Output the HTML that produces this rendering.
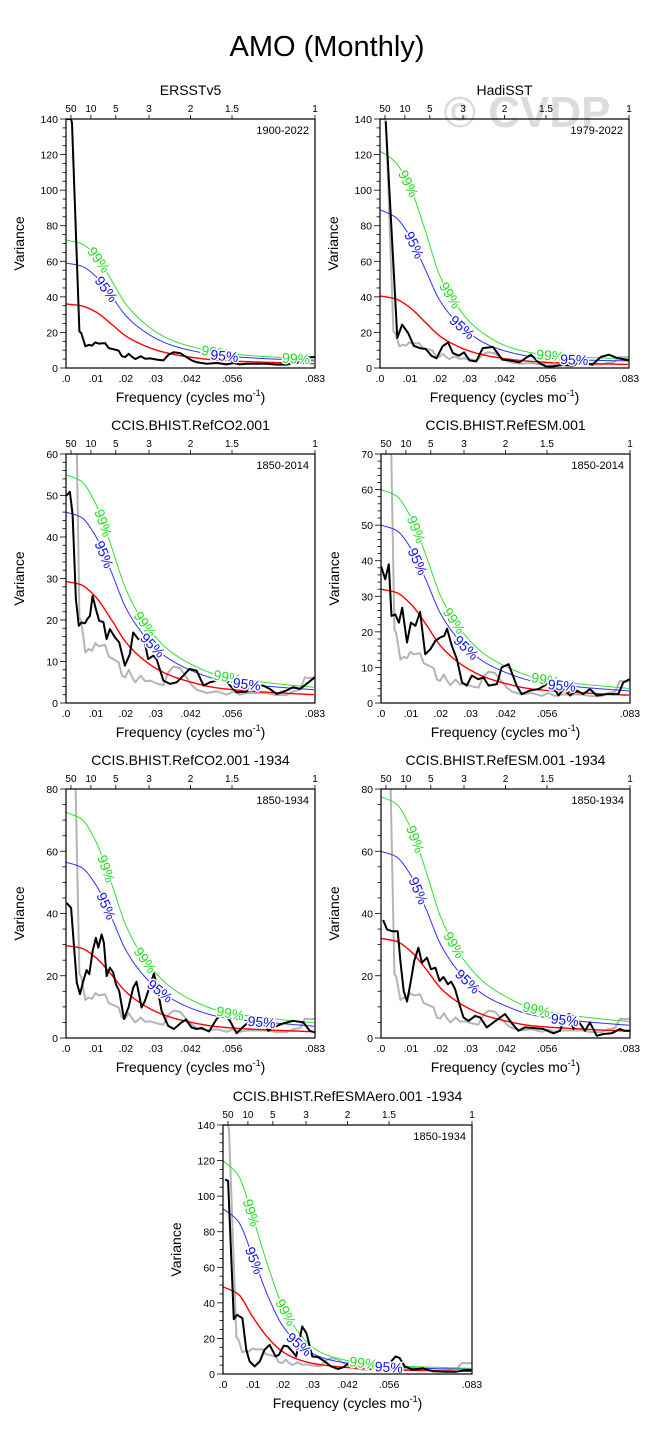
<!DOCTYPE html>
<html><head><meta charset="utf-8">
<style>
html,body{margin:0;padding:0;background:#fff;}
svg{display:block;font-family:"Liberation Sans",sans-serif;}
</style></head>
<body>
<svg id="chart" width="654" height="1444" viewBox="0 0 654 1444">
<text x="327" y="56" text-anchor="middle" font-size="29">AMO (Monthly)</text>
<text x="527" y="127" text-anchor="middle" font-size="44" font-weight="bold" fill="#dcdcdc">© CVDP</text>
</svg>
<script>
// shared theoretical-curve frequency grid
const thF = [0,.005,.01,.015,.02,.025,.03,.035,.042,.05,.056,.065,.075,.083];
// ERSSTv5 (also the gray reference spectrum)
const ersF = [0,.0017,.002,.0045,.0051,.0065,.0076,.0087,.0098,.0109,.0131,.0143,.0165,.0176,.0187,.0198,.021,.0221,.0232,.025,.0265,.0282,.0304,.0326,.0343,.036,.0382,.0399,.0421,.0438,.0471,.0505,.0538,.056,.0582,.0605,.0638,.0671,.0705,.0738,.076,.0783,.08,.0816,.0833];
const ersV = [140,140,137.7,20.6,19.7,12.2,13,12.6,14.4,13.7,14,11.2,10.3,9.8,6.6,6.2,8,6.3,5,6.6,5.2,5.4,4.7,4.3,7.5,8.8,8.4,6.6,4.3,3.2,2.4,2.8,2,2.8,2,2.4,2.4,2.4,1.9,1.9,2.8,3.2,6.2,6,6.2];
const red1=[36,35,31.5,25,18,13.5,10.2,8,6,4.5,3.9,3.3,2.8,2.4];
const blue1=[59,57.4,51.5,41,29.5,22,16.7,13,9.8,7.4,6.4,5.4,4.6,4];
const green1=[72,70,63,50,36,27,20.4,15.9,12,9,7.8,6.6,5.6,4.9];
// HadiSST
const hadF=[.0019,.0058,.0074,.0094,.0113,.0133,.0153,.0172,.0189,.0209,.0228,.0244,.0264,.0281,.03,.0322,.0344,.0378,.0409,.0433,.0467,.0505,.0533,.0555,.0578,.0611,.0644,.0678,.0711,.0739,.0766,.0794,.0833];
const hadV=[138.7,16.9,24.4,19.7,12.5,11.2,10.7,6.9,5.4,12.2,14.4,8.4,6.9,8.8,4.3,3.7,11.2,11.8,4.7,4.3,3.2,7.5,2.8,0.9,0.9,1.7,1.3,3.2,1.9,6.2,7.5,5.6,4.3];
const red2=[40.5,39,34,26,18,13,9.5,7.2,5.2,3.8,3.2,2.7,2.3,2];
const blue2=[89,85,74,56,38,27,19.5,14,9.5,6.6,5.5,4.7,4.2,4];
const green2=[122,116,102,78,52,37,26,19,12.5,8.8,7.3,6.2,5.6,5.2];
// RefCO2
const co2F=[0,.0013,.0022,.0033,.0043,.0052,.0064,.0071,.008,.0089,.01,.0111,.0125,.0136,.0147,.0164,.0178,.0197,.0214,.0225,.0242,.0261,.0275,.0292,.0303,.0326,.0348,.037,.0393,.0413,.0437,.046,.0482,.0505,.0526,.0549,.0571,.0604,.0627,.066,.0682,.0705,.0738,.076,.0783,.0805,.0833];
const co2V=[49.9,50.9,45.4,25,18.6,19.4,19.2,20.2,21,25.8,22.6,19.8,19.5,15.4,17.8,15.8,14.6,9,11.8,17,15.4,15.4,10.6,11.4,10.6,5.4,4.6,5,6.6,8.2,7.8,4.2,5,5.4,6.6,4.2,2.6,2.7,4.2,4.2,3.4,2.2,3,3.8,3.4,4.6,6.2];
const red3=[29.3,28.5,25.5,20.3,14.7,11,8.4,6.6,5,3.7,3.2,2.7,2.3,2];
const blue3=[46,44.8,40.1,31.9,23,17.3,13.2,10.4,7.8,5.8,5,4.2,3.6,3.2];
const green3=[55,53.5,47.9,38.1,27.5,20.6,15.8,12.4,9.3,6.9,6,5.1,4.3,3.8];
// RefESM
const esmF=[0,.0014,.0026,.0035,.0048,.006,.0071,.0087,.01,.0115,.0131,.0148,.0165,.0182,.0198,.0212,.0221,.0237,.0254,.0271,.0287,.0304,.0326,.0343,.036,.0388,.0404,.0427,.0454,.0471,.0499,.0527,.0555,.0577,.0594,.061,.0633,.0655,.0677,.0699,.0722,.0755,.0794,.0811,.0833];
const esmV=[38.5,34.8,39,24.5,24.9,22.6,26.8,17,22.6,21.7,25.6,13.7,15.1,17.5,18.4,18.9,20.9,16.1,12.3,5.8,4.9,7.7,6.7,7.2,4.9,5.3,10,10.9,4.9,2.5,3.5,3.9,5.3,4.4,2.1,3.9,2.1,3.5,2.5,3.9,2.1,2.5,2.5,5.8,6.7];
const red4=[32,31.1,27.8,22.2,16,12,9.2,7.2,5.4,4,3.5,3,2.5,2.2];
const blue4=[50,48.6,43.5,34.7,25,18.8,14.4,11.3,8.5,6.3,5.4,4.6,3.9,3.4];
const green4=[60,58.3,52.2,41.6,30,22.5,17.3,13.5,10.2,7.5,6.5,5.5,4.7,4.1];
// RefCO2 -1934
const co2bF=[.0002,.0017,.0027,.0036,.0047,.0058,.0069,.0078,.0089,.01,.0108,.0119,.0127,.0136,.0147,.0158,.0167,.0178,.0194,.0209,.0225,.0236,.0253,.0264,.0279,.0294,.0306,.032,.0342,.0361,.0387,.0401,.042,.0437,.0454,.0479,.0504,.0524,.0549,.0571,.0593,.0616,.0638,.0655,.0677,.0705,.0727,.076,.0794,.0816,.0833];
const co2bV=[43.4,41.8,29,17.8,14.1,18.3,21.8,20.5,27.9,32.2,29,33.3,30.6,19.9,22.6,21,17.3,15.1,6.1,9.8,16.2,18.1,9.8,11.9,16.2,20.7,16.2,8.7,3.9,2.9,5,5.9,3.4,2.9,3.2,2.1,6.1,7.7,5.5,1.5,3.6,5.5,3.9,5.5,2.3,3.9,4.7,5.5,5,2.3,1.8];
const red5=[29.7,28.9,25.8,20.6,14.9,11.2,8.5,6.7,5,3.7,3.2,2.7,2.3,2];
const blue5=[56.5,54.9,49.2,39.2,28.3,21.2,16.3,12.8,9.5,7.1,6.1,5.2,4.4,3.8];
const green5=[72.5,70.5,63.1,50.3,36.3,27.2,20.9,16.4,12.2,9.1,7.8,6.7,5.6,4.9];
// RefESM -1934
const esmbF=[.0007,.002,.0037,.0056,.0065,.0076,.0087,.0098,.0111,.0125,.0137,.0154,.0167,.0182,.0196,.0209,.0224,.0235,.0248,.0263,.0276,.0293,.0315,.0332,.0354,.0376,.0399,.0415,.0438,.046,.0482,.051,.0543,.0577,.0599,.0616,.063,.0644,.066,.0683,.0699,.0722,.0744,.0772,.08,.0816,.0833];
const esmbV=[37.9,34.9,34.3,34.3,24.7,15.1,11.7,17.3,24.7,29,24.2,25.8,22.1,22.6,18.3,19.6,17.3,18.1,15.7,10.6,6.6,5.5,7.1,6.6,3.4,5,6.6,7.7,4.7,2.3,3.4,3.2,2.9,1.5,2.3,7.1,7.7,2.9,5.5,2.3,5,0.7,1.3,1.5,2.9,2.3,2.3];
const red6=[32,31.1,27.8,22.2,16,12,9.2,7.2,5.4,4,3.5,3,2.5,2.2];
const blue6=[60,58.3,52.2,41.6,30,22.5,17.3,13.5,10.2,7.5,6.5,5.5,4.7,4.1];
const green6=[77.5,75.3,67.4,53.8,38.8,29.1,22.3,17.5,13.2,9.7,8.4,7.1,6,5.3];
// RefESMAero -1934
const aerF=[.0007,.0017,.0036,.0047,.0065,.0078,.0089,.0106,.0123,.0139,.0156,.0176,.0187,.0203,.0217,.0232,.0245,.0265,.0279,.0299,.0318,.034,.0362,.0385,.0404,.0418,.0441,.0463,.0485,.0513,.0535,.0558,.0578,.0591,.0608,.0636,.0669,.0703,.0747,.0781,.0808,.0833];
const aerV=[109.3,108.6,30.8,33.3,31.4,13.6,7.1,4.3,7.1,13.6,16.4,9.9,10.8,15.9,15.5,12.7,9.9,26.7,23,9.9,9.5,7.1,4.3,2.8,3.9,5.8,4.3,5.2,5.2,6.5,5.8,6.2,9.9,9,4.3,2.4,3.2,1.5,1.3,1.3,2.1,2.1];
const red7=[49,45,32,20.5,12.5,8.3,6,4.7,3.6,2.8,2.4,2,1.7,1.5];
const blue7=[93,86,66,44,27,17.5,11.5,8.3,6,4.6,3.9,3.3,2.9,2.7];
const green7=[120,112,88,61,38,24,15,10.5,7.5,5.7,4.9,4.1,3.6,3.2];

const xTicks=[0,.01,.02,.03,.0417,.0556,.0833];
const xTickLabels=[".0",".01",".02",".03",".042",".056",".083"];
const periods=[50,10,5,3,2,1.5,1];

const panels=[
 {name:'ersstv5',title:'ERSSTv5',years:'1900-2022',x0:66,y0:119,ymax:140,step:20,minor:5,bF:ersF,bV:ersV,gray:false,r:red1,b:blue1,g:green1,l99:[.011,.05,.077],l95:[.0135,.053]},
 {name:'hadisst',title:'HadiSST',years:'1979-2022',x0:380,y0:119,ymax:140,step:20,minor:5,bF:hadF,bV:hadV,gray:true,r:red2,b:blue2,g:green2,l99:[.0095,.0235,.057],l95:[.0115,.0275,.065]},
 {name:'refco2',title:'CCIS.BHIST.RefCO2.001',years:'1850-2014',x0:66,y0:454,ymax:60,step:10,minor:2,bF:co2F,bV:co2V,gray:true,r:red3,b:blue3,g:green3,l99:[.0125,.0265,.054],l95:[.0128,.029,.0605]},
 {name:'refesm',title:'CCIS.BHIST.RefESM.001',years:'1850-2014',x0:381,y0:454,ymax:70,step:10,minor:2,bF:esmF,bV:esmV,gray:true,r:red4,b:blue4,g:green4,l99:[.0118,.0245,.055],l95:[.0123,.0285,.0605]},
 {name:'refco2-1934',title:'CCIS.BHIST.RefCO2.001 -1934',years:'1850-1934',x0:66,y0:789,ymax:80,step:20,minor:5,bF:co2bF,bV:co2bV,gray:true,r:red5,b:blue5,g:green5,l99:[.0135,.0265,.055],l95:[.0135,.0315,.0655]},
 {name:'refesm-1934',title:'CCIS.BHIST.RefESM.001 -1934',years:'1850-1934',x0:381,y0:789,ymax:80,step:20,minor:5,bF:esmbF,bV:esmbV,gray:true,r:red6,b:blue6,g:green6,l99:[.0115,.0245,.052],l95:[.0125,.029,.0615]},
 {name:'refesmaero-1934',title:'CCIS.BHIST.RefESMAero.001 -1934',years:'1850-1934',x0:223,y0:1125,ymax:140,step:20,minor:5,bF:aerF,bV:aerV,gray:true,r:red7,b:blue7,g:green7,l99:[.0095,.021,.047],l95:[.0105,.0255,.0555]}
];

const NS='http://www.w3.org/2000/svg';
const svg=document.getElementById('chart');
const W=249,H=249,FMAX=.08333;
function mk(tag,attrs,parent){const e=document.createElementNS(NS,tag);for(const k in attrs)e.setAttribute(k,attrs[k]);(parent||svg).appendChild(e);return e;}
// monotone cubic (Fritsch-Carlson) interpolation through the data points
function monoSlopes(F,V){const n=F.length,d=[],m=[];for(let i=0;i<n-1;i++)d.push((V[i+1]-V[i])/(F[i+1]-F[i]));m[0]=d[0];m[n-1]=d[n-2];
  for(let i=1;i<n-1;i++){if(d[i-1]*d[i]<=0)m[i]=0;else{const w1=2*(F[i+1]-F[i])+(F[i]-F[i-1]),w2=(F[i+1]-F[i])+2*(F[i]-F[i-1]);m[i]=(w1+w2)/(w1/d[i-1]+w2/d[i]);}}return m;}
function monoEval(F,V,m,f){let i=0;while(i<F.length-2&&f>F[i+1])i++;const h=F[i+1]-F[i],t=Math.min(1,Math.max(0,(f-F[i])/h));const t2=t*t,t3=t2*t;
  return (2*t3-3*t2+1)*V[i]+(t3-2*t2+t)*h*m[i]+(-2*t3+3*t2)*V[i+1]+(t3-t2)*h*m[i+1];}

panels.forEach((p,pi)=>{
  const X=f=>p.x0+f/FMAX*W;
  const Y=v=>p.y0+H-v/p.ymax*H;
  const g=mk('g',{});
  
  
  const cid='clip'+pi;
  const cp=mk('clipPath',{id:cid},g);mk('rect',{x:p.x0,y:p.y0,width:W,height:H},cp);
  const t=mk('text',{x:p.x0+W/2,y:p.y0-24,'text-anchor':'middle','font-size':14},g);t.textContent=p.title;
  
  
  for(let v=0;v<=p.ymax+1e-9;v+=p.minor){const y=Y(v);const major=Math.abs(v/p.step-Math.round(v/p.step))<1e-6;mk('line',{x1:p.x0-(major?6:3.5),x2:p.x0,y1:y,y2:y,stroke:'#000','stroke-width':0.8},g);
    if(major){const tl=mk('text',{x:p.x0-8,y:y+4,'text-anchor':'end','font-size':10.5},g);tl.textContent=v;
      
      }}
  xTicks.forEach((f,i)=>{const tl=mk('text',{x:X(f),y:p.y0+H+14,'text-anchor':'middle','font-size':10.5},g);tl.textContent=xTickLabels[i];
    
    });
  periods.forEach(per=>{const x=X(1/(per*12));mk('line',{x1:x,x2:x,y1:p.y0-4,y2:p.y0,stroke:'#000','stroke-width':0.8},g);
    const tl=mk('text',{x:x,y:p.y0-7,'text-anchor':'middle','font-size':10},g);tl.textContent=per;
    
    });
  const yt=mk('text',{x:0,y:0,'text-anchor':'middle','font-size':14,transform:'translate('+(p.x0-42)+','+(p.y0+H/2)+') rotate(-90)'},g);yt.textContent='Variance';
  
  
  const xt=mk('text',{x:p.x0+W/2,y:p.y0+H+34,'text-anchor':'middle','font-size':14},g);
  xt.innerHTML='Frequency (cycles mo<tspan dy="-6" font-size="9">-1</tspan><tspan dy="6">)</tspan>';
  
  
  const yr=mk('text',{x:p.x0+W-6,y:p.y0+15,'text-anchor':'end','font-size':11},g);yr.textContent=p.years;
  
  
  const plot=mk('g',{'clip-path':'url(#'+cid+')'},g);
  if(p.gray){const gl=mk('polyline',{points:ersF.map((f,i)=>X(f).toFixed(1)+','+Y(ersV[i]).toFixed(1)).join(' '),fill:'none',stroke:'#b4b4b4','stroke-width':2,'stroke-linejoin':'round'},plot);
    
    }
  [[p.g,'#30e030','99%','green-99-line',p.l99,1],[p.b,'#3030ff','95%','blue-95-line',p.l95,1],[p.r,'#ff0000',null,'red-noise-line',[],1.4]].forEach(s=>{
    const V=s[0],m=monoSlopes(thF,V);
    const ev=f=>monoEval(thF,V,m,f);
    const N=200,pts=[];for(let k=0;k<=N;k++){const f=thF[0]+(thF[thF.length-1]-thF[0])*k/N;pts.push(X(f).toFixed(1)+','+Y(ev(f)).toFixed(1));}
    const pl=mk('polyline',{points:pts.join(' '),fill:'none',stroke:s[1],'stroke-width':s[5],'stroke-linejoin':'round'},plot);
    
    
    s[4].forEach(f=>{const x=X(f),y=Y(ev(f));const x2=X(f+.0008),y2=Y(ev(f+.0008)),x1=X(f-.0008),y1=Y(ev(f-.0008));const ang=Math.atan2(y2-y1,x2-x1)*180/Math.PI;
      const lt=mk('text',{x:0,y:0,'text-anchor':'middle','font-size':14,fill:s[1]==='#30e030'?'#22dd22':'#1010ee',stroke:'#fff','stroke-width':3,'paint-order':'stroke','dominant-baseline':'central',transform:'translate('+x.toFixed(1)+','+y.toFixed(1)+') rotate('+ang.toFixed(1)+')'},g);
      lt.textContent=s[2];
      
      });
  });
  const bl=mk('polyline',{points:p.bF.map((f,i)=>X(f).toFixed(1)+','+Y(p.bV[i]).toFixed(1)).join(' '),fill:'none',stroke:'#000','stroke-width':2,'stroke-linejoin':'round'},plot);
  
  
  const fr=mk('rect',{x:p.x0,y:p.y0,width:W,height:H,fill:'none',stroke:'#000','stroke-width':1.2},g);
  
  
});
</script>
</body></html>
